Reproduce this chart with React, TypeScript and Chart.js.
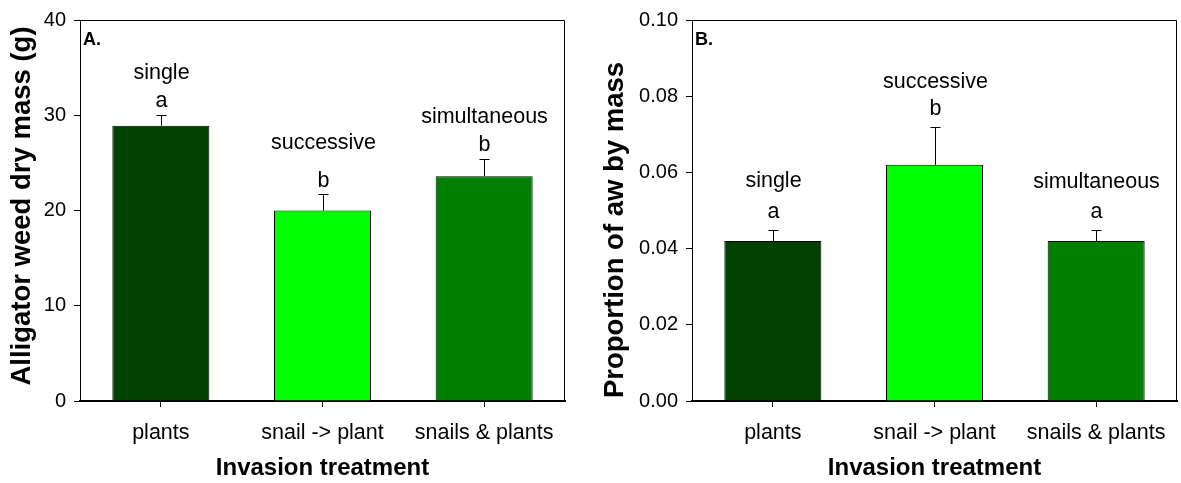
import React, { useEffect, useRef } from 'react';
import { Chart, registerables } from 'chart.js';

Chart.register(...registerables);

// ---- data ----
const categories = ['plants', 'snail -> plant', 'snails & plants'];
const groupLabels = ['single', 'successive', 'simultaneous'];

const massMeans = [28.9, 20.0, 23.6];
const massErrors = [1.1, 1.7, 1.8];
const massLetters = ['a', 'b', 'b'];
const massTicks = [0, 10, 20, 30, 40];

const propMeans = [0.042, 0.062, 0.042];
const propErrors = [0.003, 0.01, 0.003];
const propLetters = ['a', 'b', 'a'];
const propTicks = [0, 0.02, 0.04, 0.06, 0.08, 0.1];

const barColors = ['#004000', '#00ff00', '#008000'];

const FONT = '"Liberation Sans", Arial, Helvetica, sans-serif';

type PanelCfg = {
  panel: string;
  yTitle: string;
  means: number[];
  errors: number[];
  letters: string[];
  ticks: number[];
  decimals: number;
  left: number;
  width: number;
  axisWidth: number;
  padRight: number;
  titleBaseX: number;
  titleCenterY: number;
  letterGap: number[];
  groupGap: number[];
};

function makeDecor(cfg: PanelCfg) {
  return {
    id: 'panelDecor',
    afterDatasetsDraw(chart: any) {
      const ctx = chart.ctx as CanvasRenderingContext2D;
      const xs = chart.scales.x;
      const ys = chart.scales.y;
      const a = chart.chartArea;
      ctx.save();
      ctx.strokeStyle = '#000';
      ctx.fillStyle = '#000';
      ctx.lineWidth = 1;
      cfg.means.forEach((m, i) => {
        const x = Math.round(xs.getPixelForValue(i)) + 0.5;
        const yTop = ys.getPixelForValue(m);
        const yErr = Math.round(ys.getPixelForValue(m + cfg.errors[i])) + 0.5;
        ctx.beginPath();
        ctx.moveTo(x, yTop);
        ctx.lineTo(x, yErr);
        ctx.moveTo(x - 5, yErr);
        ctx.lineTo(x + 5, yErr);
        ctx.stroke();
        ctx.font = `21.5px ${FONT}`;
        ctx.textAlign = 'center';
        ctx.textBaseline = 'alphabetic';
        const ly = yErr - cfg.letterGap[i];
        ctx.fillText(cfg.letters[i], x, ly);
        ctx.fillText(groupLabels[i], x, ly - cfg.groupGap[i]);
      });
      // top and right frame lines
      ctx.beginPath();
      ctx.moveTo(a.left, a.top + 0.5);
      ctx.lineTo(a.right - 0.5, a.top + 0.5);
      ctx.lineTo(a.right - 0.5, a.bottom);
      ctx.stroke();
      // panel letter
      ctx.font = `bold 18px ${FONT}`;
      ctx.textAlign = 'left';
      ctx.textBaseline = 'alphabetic';
      ctx.fillText(cfg.panel, a.left + 3, a.top + 25);
      // y-axis title
      ctx.save();
      ctx.translate(cfg.titleBaseX, cfg.titleCenterY);
      ctx.rotate(-Math.PI / 2);
      ctx.font = `bold 27.5px ${FONT}`;
      ctx.textAlign = 'center';
      ctx.textBaseline = 'alphabetic';
      ctx.fillText(cfg.yTitle, 0, 0);
      ctx.restore();
      ctx.restore();
    },
  };
}

function Panel({ cfg }: { cfg: PanelCfg }) {
  const ref = useRef<HTMLCanvasElement | null>(null);
  useEffect(() => {
    if (!ref.current) return;
    const tickMin = cfg.ticks[0];
    const tickMax = cfg.ticks[cfg.ticks.length - 1];
    const step = cfg.ticks[1] - cfg.ticks[0];
    const chart = new Chart(ref.current, {
      type: 'bar',
      data: {
        labels: categories,
        datasets: [
          {
            data: cfg.means,
            backgroundColor: barColors,
            borderColor: '#000',
            borderWidth: 1,
            barPercentage: 0.6,
            categoryPercentage: 1.0,
          },
        ],
      },
      options: {
        animation: false,
        responsive: false,
        maintainAspectRatio: false,
        events: [],
        layout: { padding: { left: 0, top: 16, right: cfg.padRight, bottom: 0 } },
        plugins: { legend: { display: false }, tooltip: { enabled: false } },
        scales: {
          x: {
            offset: true,
            grid: {
              offset: false,
              drawOnChartArea: false,
              drawTicks: true,
              tickLength: 6,
              tickColor: '#000',
              tickWidth: 1,
            },
            border: { display: true, color: '#000', width: 2 },
            ticks: {
              color: '#000',
              font: { family: FONT, size: 21.5 },
              padding: 13,
              maxRotation: 0,
              autoSkip: false,
            },
            title: {
              display: true,
              text: 'Invasion treatment',
              color: '#000',
              font: { family: FONT, size: 24, weight: 'bold' },
              padding: { top: 0, bottom: 0 },
            },
            afterFit: (s: any) => {
              s.height = 82;
            },
          },
          y: {
            min: tickMin,
            max: tickMax,
            grid: {
              drawOnChartArea: false,
              drawTicks: true,
              tickLength: 6,
              tickColor: '#000',
              tickWidth: 1,
            },
            border: { display: true, color: '#000', width: 1 },
            ticks: {
              stepSize: step,
              color: '#000',
              font: { family: FONT, size: 20 },
              padding: 8,
              callback: (v: any) => Number(v).toFixed(cfg.decimals),
            },
            afterFit: (s: any) => {
              s.width = cfg.axisWidth;
            },
          },
        },
      },
      plugins: [makeDecor(cfg)],
    } as any);
    return () => chart.destroy();
  }, [cfg]);
  return (
    <div style={{ position: 'absolute', left: cfg.left, top: 0, width: cfg.width, height: 483 }}>
      <canvas ref={ref} width={cfg.width} height={483} style={{ display: 'block' }} />
    </div>
  );
}

const panelA: PanelCfg = {
  panel: 'A.',
  yTitle: 'Alligator weed dry mass (g)',
  means: massMeans,
  errors: massErrors,
  letters: massLetters,
  ticks: massTicks,
  decimals: 0,
  left: 0,
  width: 590,
  axisWidth: 80,
  padRight: 25,
  titleBaseX: 30,
  titleCenterY: 206,
  letterGap: [9, 7.5, 8.5],
  groupGap: [28, 38.5, 28.5],
};

const panelB: PanelCfg = {
  panel: 'B.',
  yTitle: 'Proportion of aw by mass',
  means: propMeans,
  errors: propErrors,
  letters: propLetters,
  ticks: propTicks,
  decimals: 2,
  left: 590,
  width: 591,
  axisWidth: 102,
  padRight: 4,
  titleBaseX: 33,
  titleCenterY: 230,
  letterGap: [13, 12.5, 13],
  groupGap: [31, 27, 30],
};

export default function App() {
  return (
    <div style={{ position: 'absolute', left: 0, top: 0, width: 1181, height: 483, background: '#fff' }}>
      <Panel cfg={panelA} />
      <Panel cfg={panelB} />
    </div>
  );
}
